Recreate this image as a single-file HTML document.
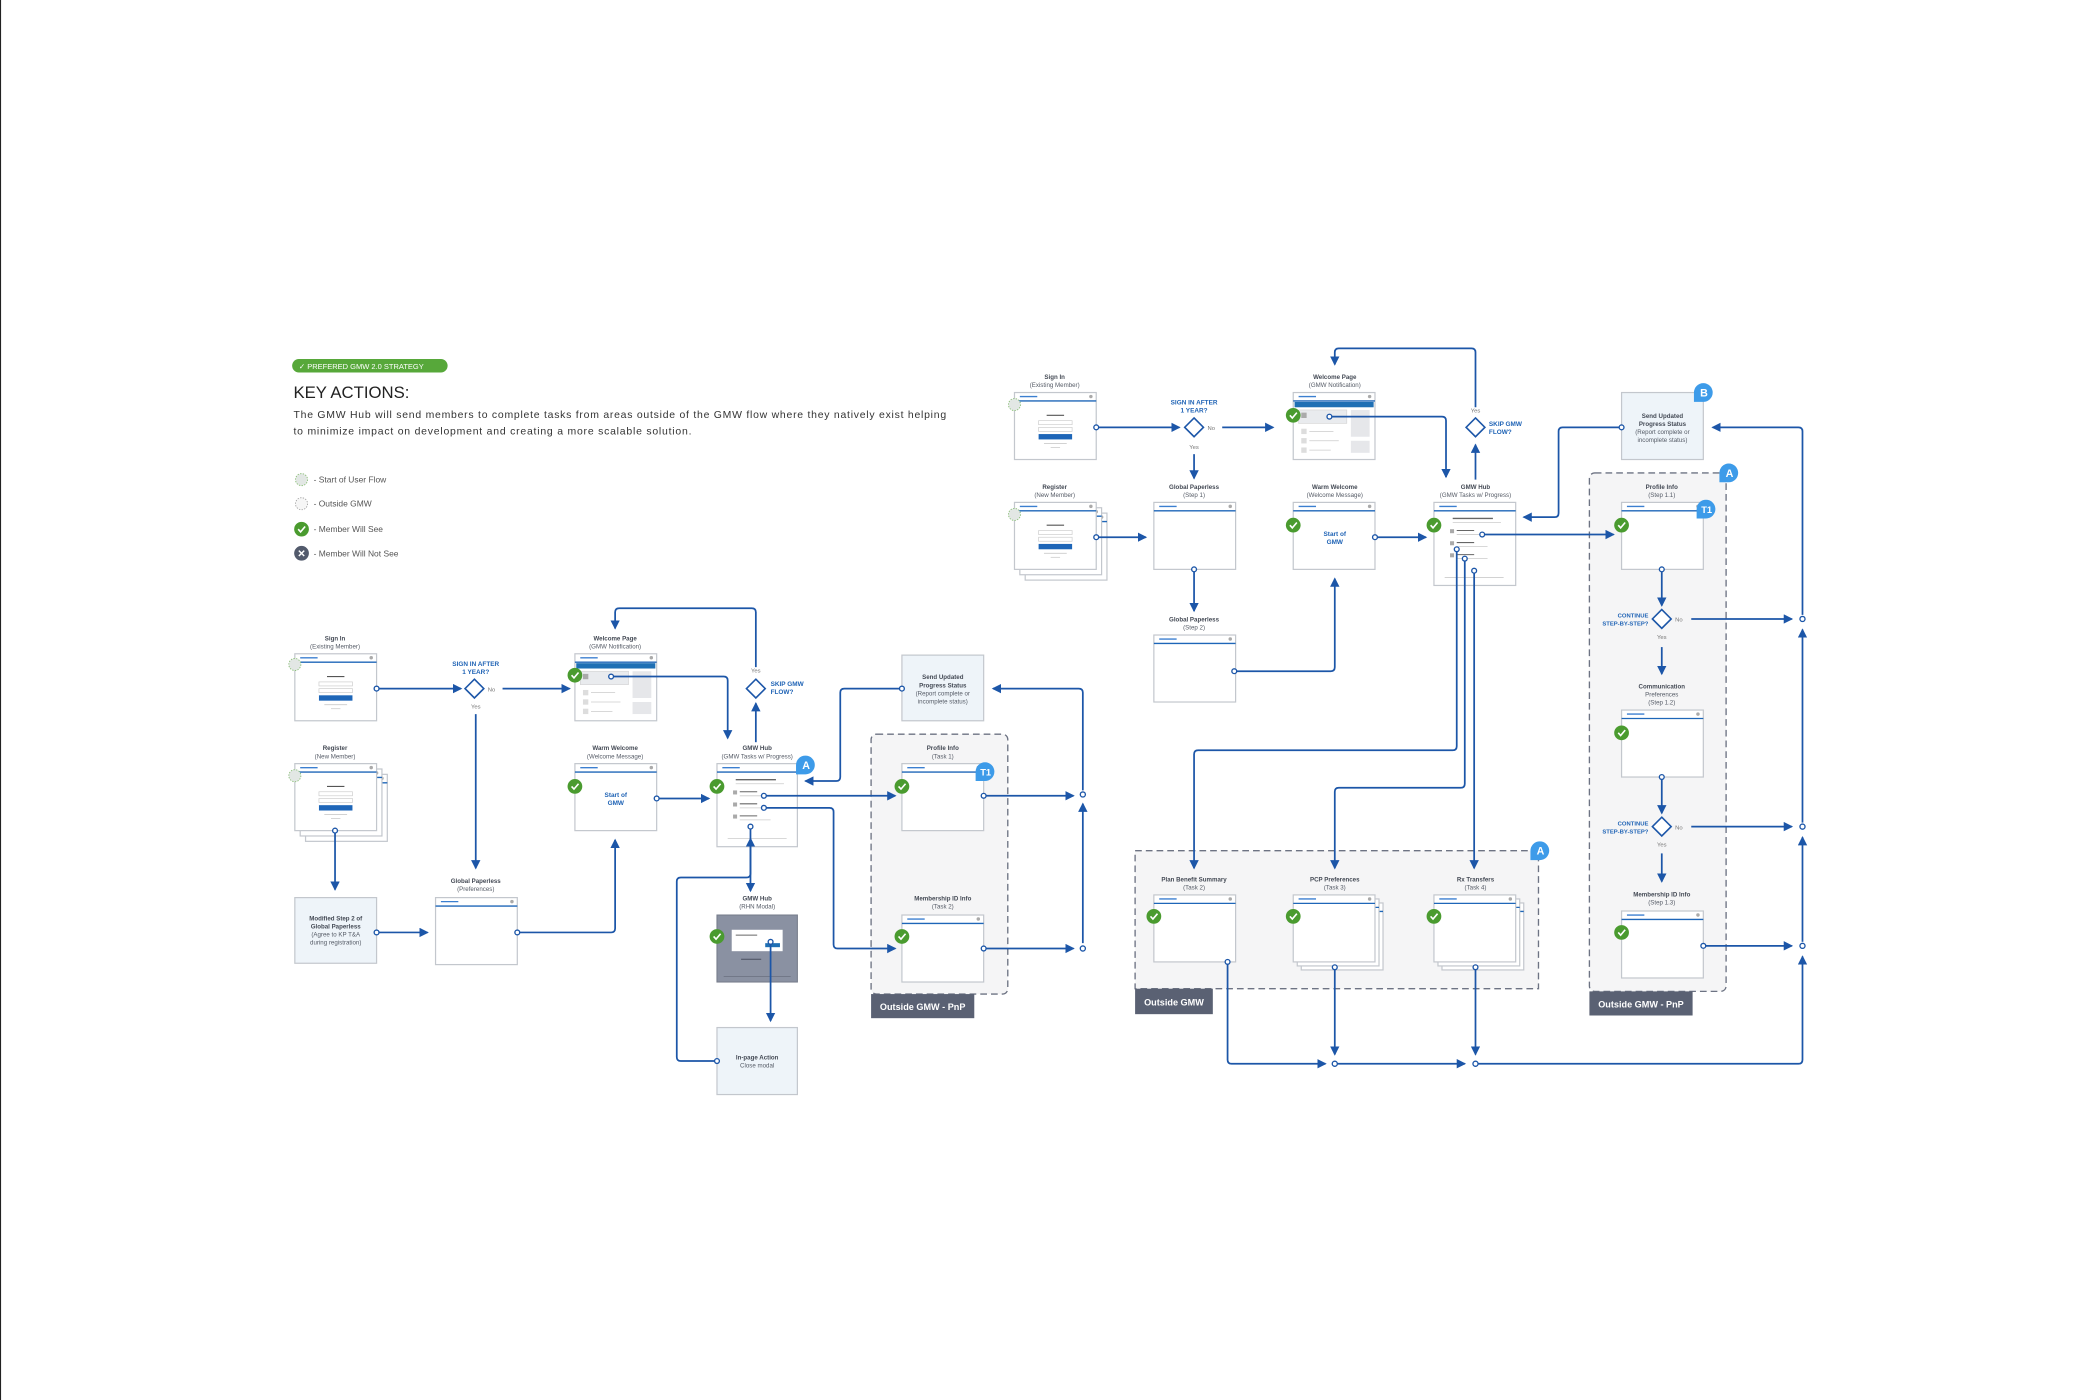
<!DOCTYPE html>
<html><head><meta charset="utf-8"><style>
html,body{margin:0;padding:0;background:#fff;}
svg{display:block;}
text{font-family:"Liberation Sans",sans-serif;}
.t{font-size:4.6px;fill:#555b66;text-anchor:middle;}
.tb{font-size:4.6px;fill:#444a55;text-anchor:middle;font-weight:bold;}
.q{font-size:4.8px;fill:#1f63b5;font-weight:bold;}
.yn{font-size:4.4px;fill:#777;}
.ln{fill:none;stroke:#1c56a8;stroke-width:1.3;stroke-linejoin:round;}
.ar{fill:none;stroke:#1c56a8;stroke-width:1.3;stroke-linejoin:round;marker-end:url(#ah);}
.dot{fill:#fff;stroke:#1c56a8;stroke-width:1;}
</style></head><body>
<svg width="2100" height="1400" viewBox="0 0 1567 1045" preserveAspectRatio="none" xmlns="http://www.w3.org/2000/svg">
<defs>
<marker id="ah" markerUnits="userSpaceOnUse" markerWidth="8" markerHeight="8" refX="6" refY="3.5" orient="auto"><path d="M0,0 L7,3.5 L0,7 Z" fill="#1c56a8"/></marker>
<g id="scr"><rect x="0" y="0" width="61" height="50" fill="#fff" stroke="#c3c7cd" stroke-width="0.9"/><line x1="4" y1="3" x2="17" y2="3" stroke="#3b7fd0" stroke-width="1"/><circle cx="57" cy="3" r="1.3" fill="#aaa"/><line x1="0" y1="6.3" x2="61" y2="6.3" stroke="#1e66b8" stroke-width="1"/></g>
<g id="chk"><circle cx="0" cy="0" r="5.5" fill="#4a9b2f"/><path d="M-2.5,0 L-0.7,2 L2.7,-2" stroke="#fff" stroke-width="1.2" fill="none"/></g>
<g id="start"><circle cx="0" cy="0" r="4.5" fill="#e2e7e4" stroke="#8dc07a" stroke-width="0.7" stroke-dasharray="1,1"/></g>
<g id="login"><line x1="24" y1="17" x2="37" y2="17" stroke="#555" stroke-width="0.8"/><rect x="18" y="21" width="25" height="3" fill="#fff" stroke="#ccc" stroke-width="0.5"/><rect x="18" y="26" width="25" height="3" fill="#fff" stroke="#ccc" stroke-width="0.5"/><rect x="18" y="31" width="25" height="4" fill="#1e66b8"/><line x1="22" y1="38" x2="39" y2="38" stroke="#ccc" stroke-width="0.6"/><line x1="27" y1="41" x2="34" y2="41" stroke="#ccc" stroke-width="0.6"/></g>
<g id="welc"><rect x="1" y="7" width="59" height="4" fill="#1e6fb4"/><rect x="4" y="13" width="36" height="10" fill="#e9ebee" stroke="#ccc" stroke-width="0.4"/><rect x="6" y="15" width="4" height="4" fill="#aaa"/><rect x="43" y="13" width="14" height="20" fill="#e6e7ea"/><rect x="43" y="36" width="14" height="9" fill="#e6e7ea"/><rect x="6" y="27" width="4" height="4" fill="#ddd"/><rect x="6" y="34" width="4" height="4" fill="#ddd"/><rect x="6" y="41" width="4" height="4" fill="#ddd"/><line x1="12" y1="29" x2="30" y2="29" stroke="#ccc" stroke-width="0.6"/><line x1="12" y1="36" x2="34" y2="36" stroke="#ccc" stroke-width="0.6"/><line x1="12" y1="43" x2="28" y2="43" stroke="#ccc" stroke-width="0.6"/></g>
<g id="hubc"><line x1="14" y1="12" x2="44" y2="12" stroke="#666" stroke-width="1"/><line x1="14" y1="15" x2="50" y2="15" stroke="#ccc" stroke-width="0.6"/><rect x="12" y="20" width="3" height="3" fill="#aaa"/><rect x="12" y="29" width="3" height="3" fill="#aaa"/><rect x="12" y="38" width="3" height="3" fill="#aaa"/><line x1="17" y1="21" x2="30" y2="21" stroke="#666" stroke-width="0.8"/><line x1="17" y1="30" x2="30" y2="30" stroke="#666" stroke-width="0.8"/><line x1="17" y1="39" x2="30" y2="39" stroke="#666" stroke-width="0.8"/><line x1="17" y1="24" x2="40" y2="24" stroke="#ccc" stroke-width="0.6"/><line x1="17" y1="33" x2="40" y2="33" stroke="#ccc" stroke-width="0.6"/><line x1="17" y1="42" x2="40" y2="42" stroke="#ccc" stroke-width="0.6"/><line x1="8" y1="56" x2="52" y2="56" stroke="#ccc" stroke-width="0.6"/></g>
</defs>
<rect width="1567" height="1045" fill="#fff"/>
<line x1="0.4" y1="0" x2="0.4" y2="1045" stroke="#222" stroke-width="0.8"/>

<!-- header -->
<rect x="218" y="268" width="116" height="10" rx="5" fill="#57a83a"/>
<text x="223" y="275.5" style="font-size:5.6px;fill:#fff;">✓ PREFERED GMW 2.0 STRATEGY</text>
<text x="219" y="297" style="font-size:12.5px;fill:#222;">KEY ACTIONS:</text>
<text x="219" y="312" style="font-size:7.8px;fill:#333;" textLength="487" lengthAdjust="spacing">The GMW Hub will send members to complete tasks from areas outside of the GMW flow where they natively exist helping</text>
<text x="219" y="324.5" style="font-size:7.8px;fill:#333;" textLength="297" lengthAdjust="spacing">to minimize impact on development and creating a more scalable solution.</text>
<use href="#start" x="225" y="358"/>
<circle cx="225" cy="376" r="4.5" fill="#f6f6f6" stroke="#999" stroke-width="0.6" stroke-dasharray="1,1"/>
<use href="#chk" x="225" y="395"/>
<circle cx="225" cy="413" r="5.5" fill="#525a6c"/><path d="M223,411 L227,415 M227,411 L223,415" stroke="#fff" stroke-width="1.1"/>
<text x="234" y="360" style="font-size:6.3px;fill:#555;">- Start of User Flow</text>
<text x="234" y="378" style="font-size:6.3px;fill:#555;">- Outside GMW</text>
<text x="234" y="397" style="font-size:6.3px;fill:#555;">- Member Will See</text>
<text x="234" y="415.5" style="font-size:6.3px;fill:#555;">- Member Will Not See</text>

<!-- ========== LEFT FLOW ========== -->
<rect x="650" y="548" width="102" height="194" rx="4" fill="#f5f5f6" stroke="#6d7383" stroke-width="1" stroke-dasharray="5,3"/>
<rect x="650" y="742" width="77" height="18" fill="#5a6173"/>
<text x="688.5" y="754" style="font-size:6.8px;fill:#fff;text-anchor:middle;font-weight:bold;">Outside GMW - PnP</text>

<text class="tb" x="250" y="478">Sign In</text><text class="t" x="250" y="484">(Existing Member)</text>
<use href="#scr" x="220" y="488"/><use href="#login" x="220" y="488"/><use href="#start" x="220" y="496"/>

<text class="tb" x="250" y="560">Register</text><text class="t" x="250" y="566">(New Member)</text>
<use href="#scr" x="228" y="578"/><use href="#scr" x="224" y="574"/><use href="#scr" x="220" y="570"/><use href="#login" x="220" y="570"/><use href="#start" x="220" y="579"/>

<rect x="220" y="670" width="61" height="49" fill="#eef4f9" stroke="#c3c7cd" stroke-width="0.9"/>
<text class="tb" x="250.5" y="687">Modified Step 2 of</text><text class="tb" x="250.5" y="693">Global Paperless</text><text class="t" x="250.5" y="699">(Agree to KP T&amp;A</text><text class="t" x="250.5" y="705">during registration)</text>

<text class="tb" x="355" y="659">Global Paperless</text><text class="t" x="355" y="665">(Preferences)</text>
<use href="#scr" x="325" y="670"/>

<text class="tb" x="459" y="478">Welcome Page</text><text class="t" x="459" y="484">(GMW Notification)</text>
<use href="#scr" x="429" y="488"/><use href="#welc" x="429" y="488"/><use href="#chk" x="429" y="504"/>

<text class="tb" x="459" y="560">Warm Welcome</text><text class="t" x="459" y="566">(Welcome Message)</text>
<use href="#scr" x="429" y="570"/><use href="#chk" x="429" y="587"/>
<text class="q" x="459.5" y="595" text-anchor="middle">Start of</text><text class="q" x="459.5" y="601" text-anchor="middle">GMW</text>

<text class="tb" x="565" y="560">GMW Hub</text><text class="t" x="565" y="566">(GMW Tasks w/ Progress)</text>
<rect x="535" y="570" width="60" height="62" fill="#fff" stroke="#c3c7cd" stroke-width="0.9"/><line x1="539" y1="573" x2="552" y2="573" stroke="#3b7fd0"/><line x1="535" y1="576.3" x2="595" y2="576.3" stroke="#1e66b8"/>
<use href="#hubc" x="535" y="570"/><use href="#chk" x="535" y="587"/>
<path d="M594,578 L594,571 A7,7 0 1 1 601,578 Z" fill="#3d9be9"/><text x="601.5" y="574" style="font-size:8px;fill:#fff;font-weight:bold;text-anchor:middle;">A</text>

<text class="tb" x="565" y="672">GMW Hub</text><text class="t" x="565" y="678">(RHN Modal)</text>
<rect x="535" y="683" width="60" height="50" fill="#8a91a2" stroke="#777d8b" stroke-width="0.8"/>
<rect x="546" y="694" width="38" height="16" fill="#fff"/><line x1="549" y1="698" x2="565" y2="698" stroke="#666" stroke-width="0.8"/><rect x="571" y="704" width="11" height="3" fill="#1e6fb4"/>
<line x1="553" y1="716" x2="568" y2="716" stroke="#4a5060" stroke-width="0.8"/><line x1="540" y1="729" x2="590" y2="729" stroke="#6a7080" stroke-width="0.6"/>
<use href="#chk" x="535" y="699"/>

<rect x="535" y="767" width="60" height="50" fill="#eef4f9" stroke="#c3c7cd" stroke-width="0.9"/>
<text class="tb" x="565" y="791">In-page Action</text><text class="t" x="565" y="797">Close modal</text>

<path d="M564,507 L571,514 L564,521 L557,514 Z" fill="#fff" stroke="#1c56a8" stroke-width="1.2"/>
<text class="q" x="575" y="512">SKIP GMW</text><text class="q" x="575" y="518">FLOW?</text>
<text class="yn" x="564" y="502" text-anchor="middle">Yes</text>

<path d="M354,507 L361,514 L354,521 L347,514 Z" fill="#fff" stroke="#1c56a8" stroke-width="1.2"/>
<text class="q" x="355" y="497" text-anchor="middle">SIGN IN AFTER</text><text class="q" x="355" y="503" text-anchor="middle">1 YEAR?</text>
<text class="yn" x="364" y="516">No</text><text class="yn" x="355" y="529" text-anchor="middle">Yes</text>

<rect x="673" y="489" width="61" height="49" fill="#eef4f9" stroke="#c3c7cd" stroke-width="0.9"/>
<text class="tb" x="703.5" y="507">Send Updated</text><text class="tb" x="703.5" y="513">Progress Status</text><text class="t" x="703.5" y="519">(Report complete or</text><text class="t" x="703.5" y="525">incomplete status)</text>

<text class="tb" x="703.5" y="560">Profile Info</text><text class="t" x="703.5" y="566">(Task 1)</text>
<use href="#scr" x="673" y="570"/><use href="#chk" x="673" y="587"/>
<path d="M728,583 L728,576 A7,7 0 1 1 735,583 Z" fill="#3d9be9"/><text x="735.5" y="579" style="font-size:7px;fill:#fff;font-weight:bold;text-anchor:middle;">T1</text>

<text class="tb" x="703.5" y="672">Membership ID Info</text><text class="t" x="703.5" y="678">(Task 2)</text>
<use href="#scr" x="673" y="683"/><use href="#chk" x="673" y="699"/>

<!-- left connectors -->
<path class="ar" d="M281,514 H344"/><circle class="dot" cx="281" cy="514" r="1.8"/>
<path class="ar" d="M375,514 H425"/>
<path class="ar" d="M355,533 V648"/>
<path class="ar" d="M250,620 V664"/><circle class="dot" cx="250" cy="620" r="1.8"/>
<path class="ar" d="M281,696 H319"/><circle class="dot" cx="281" cy="696" r="1.8"/>
<path class="ar" d="M386,696 H456 Q459,696 459,693 V627"/><circle class="dot" cx="386" cy="696" r="1.8"/>
<path class="ar" d="M490,596 H529"/><circle class="dot" cx="490" cy="596" r="1.8"/>
<path class="ar" d="M456,505 H540 Q543,505 543,508 V551"/><circle class="dot" cx="456" cy="505" r="1.8"/>
<path class="ar" d="M564,554 V525"/>
<path class="ar" d="M564,498 V457 Q564,454 561,454 H462 Q459,454 459,457 V469"/>
<path class="ar" d="M570,594 H668"/><circle class="dot" cx="570" cy="594" r="1.8"/>
<path class="ar" d="M570,603 H619 Q622,603 622,606 V705 Q622,708 625,708 H668"/><circle class="dot" cx="570" cy="603" r="1.8"/>
<path class="ar" d="M560,617 V665"/><circle class="dot" cx="560" cy="617" r="1.8"/>
<path class="ar" d="M575,703 V762"/><circle class="dot" cx="575" cy="703" r="1.8"/>
<path class="ar" d="M535,792 H508 Q505,792 505,789 V658 Q505,655 508,655 H557 Q560,655 560,652 V626"/><circle class="dot" cx="535" cy="792" r="1.8"/>
<path class="ar" d="M673,514 H630 Q627,514 627,517 V580 Q627,583 624,583 H601"/><circle class="dot" cx="673" cy="514" r="1.8"/>
<path class="ar" d="M734,594 H801"/><circle class="dot" cx="734" cy="594" r="1.8"/>
<path class="ar" d="M734,708 H801"/><circle class="dot" cx="734" cy="708" r="1.8"/>
<path class="ar" d="M808,704 V600"/>
<path class="ar" d="M808,590 V517 Q808,514 805,514 H741"/>
<circle class="dot" cx="808" cy="593" r="1.9"/><circle class="dot" cx="808" cy="708" r="1.9"/>

<!-- ========== RIGHT FLOW ========== -->
<rect x="847" y="635" width="301" height="103" fill="#f5f5f6" stroke="#6d7383" stroke-width="1" stroke-dasharray="5,3"/>
<rect x="847" y="738" width="58" height="19" fill="#5a6173"/>
<text x="876" y="750.5" style="font-size:6.8px;fill:#fff;text-anchor:middle;font-weight:bold;">Outside GMW</text>
<path d="M1142,642 L1142,635 A7,7 0 1 1 1149,642 Z" fill="#3d9be9"/><text x="1149.5" y="638" style="font-size:8px;fill:#fff;font-weight:bold;text-anchor:middle;">A</text>

<rect x="1186" y="353" width="102" height="387" rx="4" fill="#f5f5f6" stroke="#6d7383" stroke-width="1" stroke-dasharray="5,3"/>
<rect x="1186" y="740" width="77" height="18" fill="#5a6173"/>
<text x="1224.5" y="752" style="font-size:6.8px;fill:#fff;text-anchor:middle;font-weight:bold;">Outside GMW - PnP</text>
<path d="M1283,360 L1283,353 A7,7 0 1 1 1290,360 Z" fill="#3d9be9"/><text x="1290.5" y="356" style="font-size:8px;fill:#fff;font-weight:bold;text-anchor:middle;">A</text>

<text class="tb" x="787" y="283">Sign In</text><text class="t" x="787" y="289">(Existing Member)</text>
<use href="#scr" x="757" y="293"/><use href="#login" x="757" y="293"/><use href="#start" x="757" y="302"/>

<text class="tb" x="787" y="365">Register</text><text class="t" x="787" y="371">(New Member)</text>
<use href="#scr" x="765" y="383"/><use href="#scr" x="761" y="379"/><use href="#scr" x="757" y="375"/><use href="#login" x="757" y="375"/><use href="#start" x="757" y="384"/>

<path d="M891,312 L898,319 L891,326 L884,319 Z" fill="#fff" stroke="#1c56a8" stroke-width="1.2"/>
<text class="q" x="891" y="302" text-anchor="middle">SIGN IN AFTER</text><text class="q" x="891" y="308" text-anchor="middle">1 YEAR?</text>
<text class="yn" x="901" y="321">No</text><text class="yn" x="891" y="335" text-anchor="middle">Yes</text>

<text class="tb" x="891" y="365">Global Paperless</text><text class="t" x="891" y="371">(Step 1)</text>
<use href="#scr" x="861" y="375"/>
<text class="tb" x="891" y="464">Global Paperless</text><text class="t" x="891" y="470">(Step 2)</text>
<use href="#scr" x="861" y="474"/>

<text class="tb" x="996" y="283">Welcome Page</text><text class="t" x="996" y="289">(GMW Notification)</text>
<use href="#scr" x="965" y="293"/><use href="#welc" x="965" y="293"/><use href="#chk" x="965" y="310"/>

<text class="tb" x="996" y="365">Warm Welcome</text><text class="t" x="996" y="371">(Welcome Message)</text>
<use href="#scr" x="965" y="375"/><use href="#chk" x="965" y="392"/>
<text class="q" x="996" y="400" text-anchor="middle">Start of</text><text class="q" x="996" y="406" text-anchor="middle">GMW</text>

<text class="tb" x="1101" y="365">GMW Hub</text><text class="t" x="1101" y="371">(GMW Tasks w/ Progress)</text>
<rect x="1070" y="375" width="61" height="62" fill="#fff" stroke="#c3c7cd" stroke-width="0.9"/><line x1="1074" y1="378" x2="1087" y2="378" stroke="#3b7fd0"/><line x1="1070" y1="381.3" x2="1131" y2="381.3" stroke="#1e66b8"/>
<use href="#hubc" x="1070" y="375"/><use href="#chk" x="1070" y="392"/>

<path d="M1101,312 L1108,319 L1101,326 L1094,319 Z" fill="#fff" stroke="#1c56a8" stroke-width="1.2"/>
<text class="q" x="1111" y="318">SKIP GMW</text><text class="q" x="1111" y="324">FLOW?</text>
<text class="yn" x="1101" y="308" text-anchor="middle">Yes</text>

<rect x="1210" y="293" width="61" height="50" fill="#eef4f9" stroke="#c3c7cd" stroke-width="0.9"/>
<text class="tb" x="1240.5" y="312">Send Updated</text><text class="tb" x="1240.5" y="318">Progress Status</text><text class="t" x="1240.5" y="324">(Report complete or</text><text class="t" x="1240.5" y="330">incomplete status)</text>
<path d="M1264,300 L1264,293 A7,7 0 1 1 1271,300 Z" fill="#3d9be9"/><text x="1271.5" y="296" style="font-size:8px;fill:#fff;font-weight:bold;text-anchor:middle;">B</text>

<text class="tb" x="1240" y="365">Profile Info</text><text class="t" x="1240" y="371">(Step 1.1)</text>
<use href="#scr" x="1210" y="375"/><use href="#chk" x="1210" y="392"/>
<path d="M1266,387 L1266,380 A7,7 0 1 1 1273,387 Z" fill="#3d9be9"/><text x="1273.5" y="383" style="font-size:7px;fill:#fff;font-weight:bold;text-anchor:middle;">T1</text>

<path d="M1240,455 L1247,462 L1240,469 L1233,462 Z" fill="#fff" stroke="#1c56a8" stroke-width="1.2"/>
<text class="q" x="1230" y="461" text-anchor="end" style="font-size:4.4px;">CONTINUE</text><text class="q" x="1230" y="467" text-anchor="end" style="font-size:4.4px;">STEP-BY-STEP?</text>
<text class="yn" x="1250" y="464">No</text><text class="yn" x="1240" y="477" text-anchor="middle">Yes</text>

<text class="tb" x="1240" y="514">Communication</text><text class="t" x="1240" y="520">Preferences</text><text class="t" x="1240" y="526">(Step 1.2)</text>
<use href="#scr" x="1210" y="530"/><use href="#chk" x="1210" y="547"/>

<path d="M1240,610 L1247,617 L1240,624 L1233,617 Z" fill="#fff" stroke="#1c56a8" stroke-width="1.2"/>
<text class="q" x="1230" y="616" text-anchor="end" style="font-size:4.4px;">CONTINUE</text><text class="q" x="1230" y="622" text-anchor="end" style="font-size:4.4px;">STEP-BY-STEP?</text>
<text class="yn" x="1250" y="619">No</text><text class="yn" x="1240" y="632" text-anchor="middle">Yes</text>

<text class="tb" x="1240" y="669">Membership ID Info</text><text class="t" x="1240" y="675">(Step 1.3)</text>
<use href="#scr" x="1210" y="680"/><use href="#chk" x="1210" y="696"/>

<text class="tb" x="891" y="658">Plan Benefit Summary</text><text class="t" x="891" y="664">(Task 2)</text>
<use href="#scr" x="861" y="668"/><use href="#chk" x="861" y="684"/>
<text class="tb" x="996" y="658">PCP Preferences</text><text class="t" x="996" y="664">(Task 3)</text>
<use href="#scr" x="971" y="674"/><use href="#scr" x="968" y="671"/><use href="#scr" x="965" y="668"/><use href="#chk" x="965" y="684"/>
<text class="tb" x="1101" y="658">Rx Transfers</text><text class="t" x="1101" y="664">(Task 4)</text>
<use href="#scr" x="1076" y="674"/><use href="#scr" x="1073" y="671"/><use href="#scr" x="1070" y="668"/><use href="#chk" x="1070" y="684"/>

<!-- right connectors -->
<path class="ar" d="M818,319 H880"/><circle class="dot" cx="818" cy="319" r="1.8"/>
<path class="ar" d="M912,319 H950"/>
<path class="ar" d="M891,339 V357"/>
<path class="ar" d="M818,401 H855"/><circle class="dot" cx="818" cy="401" r="1.8"/>
<path class="ar" d="M891,425 V456"/><circle class="dot" cx="891" cy="425" r="1.8"/>
<path class="ar" d="M921,501 H993 Q996,501 996,498 V432"/><circle class="dot" cx="921" cy="501" r="1.8"/>
<path class="ar" d="M1026,401 H1064"/><circle class="dot" cx="1026" cy="401" r="1.8"/>
<path class="ar" d="M992,311 H1076 Q1079,311 1079,314 V356"/><circle class="dot" cx="992" cy="311" r="1.8"/>
<path class="ar" d="M1101,358 V332"/>
<path class="ar" d="M1101,304 V263 Q1101,260 1098,260 H999 Q996,260 996,263 V272"/>
<path class="ar" d="M1106,399 H1204"/><circle class="dot" cx="1106" cy="399" r="1.8"/>
<path class="ar" d="M1210,319 H1166 Q1163,319 1163,322 V383 Q1163,386 1160,386 H1137"/><circle class="dot" cx="1210" cy="319" r="1.8"/>
<path class="ar" d="M1087,410 V557 Q1087,560 1084,560 H894 Q891,560 891,563 V648"/><circle class="dot" cx="1087" cy="410" r="1.8"/>
<path class="ar" d="M1093,417 V585 Q1093,588 1090,588 H999 Q996,588 996,591 V648"/><circle class="dot" cx="1093" cy="417" r="1.8"/>
<path class="ar" d="M1100,426 V648"/><circle class="dot" cx="1100" cy="426" r="1.8"/>
<path class="ar" d="M1240,425 V452"/><circle class="dot" cx="1240" cy="425" r="1.8"/>
<path class="ar" d="M1240,483 V503"/>
<path class="ar" d="M1262,462 H1337"/>
<path class="ar" d="M1240,580 V607"/><circle class="dot" cx="1240" cy="580" r="1.8"/>
<path class="ar" d="M1240,637 V658"/>
<path class="ar" d="M1262,617 H1337"/>
<path class="ar" d="M1271,706 H1337"/><circle class="dot" cx="1271" cy="706" r="1.8"/>
<path class="ar" d="M916,718 V791 Q916,794 919,794 H989"/><circle class="dot" cx="916" cy="718" r="1.8"/>
<path class="ar" d="M996,722 V787"/><circle class="dot" cx="996" cy="722" r="1.8"/>
<path class="ar" d="M998,794 H1093"/>
<path class="ar" d="M1101,722 V787"/><circle class="dot" cx="1101" cy="722" r="1.8"/>
<path class="ar" d="M1103,794 H1342 Q1345,794 1345,791 V714"/>
<path class="ar" d="M1345,703 V625"/>
<path class="ar" d="M1345,614 V470"/>
<path class="ar" d="M1345,459 V322 Q1345,319 1342,319 H1278"/>
<circle class="dot" cx="996" cy="794" r="1.9"/><circle class="dot" cx="1101" cy="794" r="1.9"/>
<circle class="dot" cx="1345" cy="462" r="1.9"/><circle class="dot" cx="1345" cy="617" r="1.9"/><circle class="dot" cx="1345" cy="706" r="1.9"/>
</svg>
</body></html>
